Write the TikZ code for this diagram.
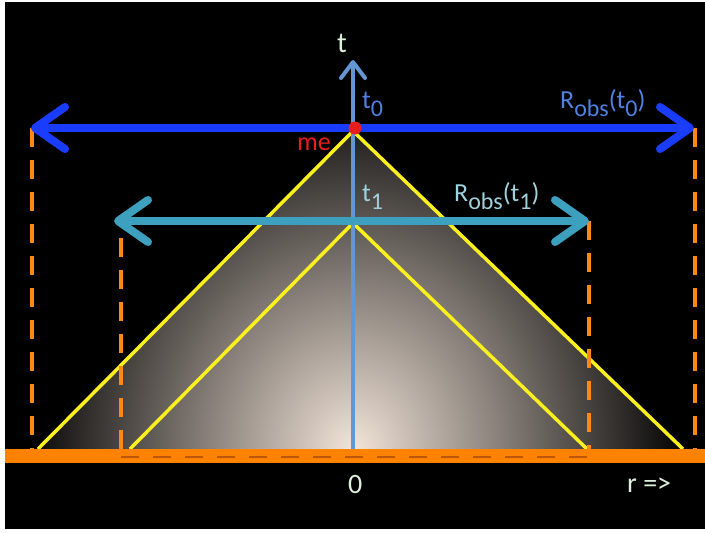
\documentclass[tikz,border=0pt]{standalone}
\usepackage{fontspec}
\setmainfont{Carlito}
\usetikzlibrary{arrows.meta}

\definecolor{bluearrow}{RGB}{26,60,255}
\definecolor{tealarrow}{RGB}{60,160,190}
\definecolor{axisblue}{RGB}{100,150,210}
\definecolor{coneyellow}{RGB}{250,240,30}
\definecolor{barorange}{RGB}{255,130,0}
\definecolor{dashorange}{RGB}{255,135,20}
\definecolor{darkorange}{RGB}{190,85,10}
\definecolor{glow}{RGB}{242,228,216}
\definecolor{lbl}{RGB}{220,240,220}
\definecolor{lblblue}{RGB}{80,130,225}
\definecolor{lblteal}{RGB}{160,210,222}
\definecolor{mered}{RGB}{230,30,30}

\newcommand\lowsub[1]{\raisebox{-8pt}{\fontsize{24}{26}\selectfont #1}}

\begin{document}
\begin{tikzpicture}[x=1pt, y=-1pt,
    lab/.style={font=\fontsize{26}{30}\selectfont, inner sep=0pt, anchor=base west},
    biglab/.style={font=\fontsize{28}{32}\selectfont, inner sep=0pt, anchor=base west, text=lbl},
    rangearrow/.style={line width=8pt, {Straight Barb[length=30pt,width=42pt,round]}-{Straight Barb[length=30pt,width=42pt,round]}},
    cone/.style={coneyellow, line width=3.5pt},
    proj/.style={dashorange, line width=4pt, dash pattern=on 19pt off 13pt}]

    \useasboundingbox (0,0) rectangle (705,533);
    \fill[white] (0,0) rectangle (705,533);
    \fill[black] (5,2) rectangle (705,529);

    \coordinate (apex0) at (353,131);
    \coordinate (apex1) at (353,223);
    \coordinate (foot0l) at (38,449);
    \coordinate (foot0r) at (683,449);
    \coordinate (foot1l) at (130,449);
    \coordinate (foot1r) at (587,449);
    \coordinate (origin) at (353,449);
    \coordinate (axistop) at (353,60);
    \coordinate (r0l) at (31,128);
    \coordinate (r0r) at (694,128);
    \coordinate (r1l) at (114,221);
    \coordinate (r1r) at (589,221);
    \coordinate (g0l) at (32,449);
    \coordinate (g0r) at (695,449);
    \coordinate (g1l) at (121,449);
    \coordinate (g1r) at (589,449);
    \coordinate (h1l) at (121,457);
    \coordinate (h1r) at (589,457);

    \begin{scope}
        \clip (apex0) -- (foot0l) -- (foot0r) -- cycle;
        \shade[inner color=glow, outer color=black] (origin) ellipse [x radius=335, y radius=370];
    \end{scope}

    \draw[cone] (foot0l) -- (apex0) -- (foot0r);
    \draw[cone] (foot1l) -- (apex1) -- (foot1r);

    \draw[proj] (g0l |- r0l) -- (g0l);
    \draw[proj] (g0r |- r0r) -- (g0r);
    \draw[proj] (g1l |- 0,238) -- (g1l);
    \draw[proj] (r1r) -- (g1r);

    \fill[barorange] (5,449) rectangle (705,463);
    \draw[darkorange, line width=2pt, dash pattern=on 18pt off 14pt] (h1l) -- (h1r);

    \draw[axisblue, line width=4pt, -{Straight Barb[length=16pt,width=24pt,round]}] (origin) -- (axistop);

    \draw[rangearrow, tealarrow] (r1l) -- (r1r);
    \draw[rangearrow, bluearrow] (r0l) -- (r0r);
    \fill[mered] (355,128) circle (6.5);

    \node[lab, text=lbl, font=\fontsize{29}{32}\selectfont] (tlab) at (337,52) {t};
    \node[lab, text=lblblue] (t0lab) at (362,108) {t\lowsub{0}};
    \node[lab, text=lblblue] (robs0) at (560,108) {R\lowsub{obs}(t\lowsub{0})};
    \node[lab, text=mered] (melab) at (297,150) {me};
    \node[lab, text=lblteal] (t1lab) at (362,201) {t\lowsub{1}};
    \node[lab, text=lblteal] (robs1) at (454,201) {R\lowsub{obs}(t\lowsub{1})};
    \node[biglab] (zerolab) at (348,493) {0};
    \node[biglab] (rlab) at (627,492) {r =>};

\end{tikzpicture}
\end{document}
